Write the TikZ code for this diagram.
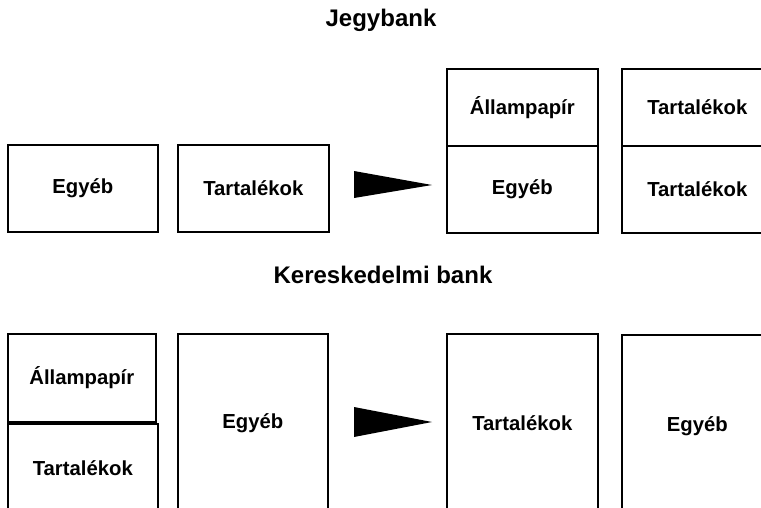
\documentclass[tikz,border=0pt]{standalone}
\usepackage{fontspec}
\setmainfont{Liberation Sans}
\begin{document}
\begin{tikzpicture}[x=1pt,y=-1pt,
  box/.style={draw, line width=1.6pt, anchor=north west, inner sep=0pt,
    font=\bfseries\fontsize{20.3}{24}\selectfont},
  ttl/.style={font=\bfseries\fontsize{24}{28}\selectfont, inner sep=0pt},
  pointer/.style={fill=black, draw=none}]
\useasboundingbox (0,0) rectangle (761,507);
\clip (0,0) rectangle (761,507);
% titles
\node[ttl] (t1) at (381,20) {Jegybank};
\node[ttl] (t2) at (383,275) {Kereskedelmi bank};
% top row
\node[box, minimum width=150pt, minimum height=87pt] (a1) at (7,144) {Egyéb};
\node[box, minimum width=151pt, minimum height=87pt] (a2) at (177,144) {Tartalékok};
\fill[pointer] (354,171) -- (432,185) -- (354,198) -- cycle;
\node[box, minimum width=151pt, minimum height=77pt] (a3u) at (446,68) {Állampapír};
\node[box, minimum width=151pt, minimum height=87pt] (a3l) at (446,145) {Egyéb};
\node[box, minimum width=151pt, minimum height=77pt] (a4u) at (621,68) {Tartalékok};
\node[box, minimum width=151pt, minimum height=87pt] (a4l) at (621,145) {Tartalékok};
% bottom row
\node[box, minimum width=148pt, minimum height=88pt] (b1u) at (7,333) {Állampapír};
\node[box, minimum width=150pt, minimum height=89pt] (b1l) at (7,423) {Tartalékok};
\node[box, minimum width=150pt, minimum height=178pt] (b2) at (177,333) {Egyéb};
\fill[pointer] (354,407) -- (432,422) -- (354,437) -- cycle;
\node[box, minimum width=151pt, minimum height=178pt] (b3) at (446,333) {Tartalékok};
\node[box, minimum width=151pt, minimum height=182pt] (b4) at (621,334) {Egyéb};
\end{tikzpicture}
\end{document}
